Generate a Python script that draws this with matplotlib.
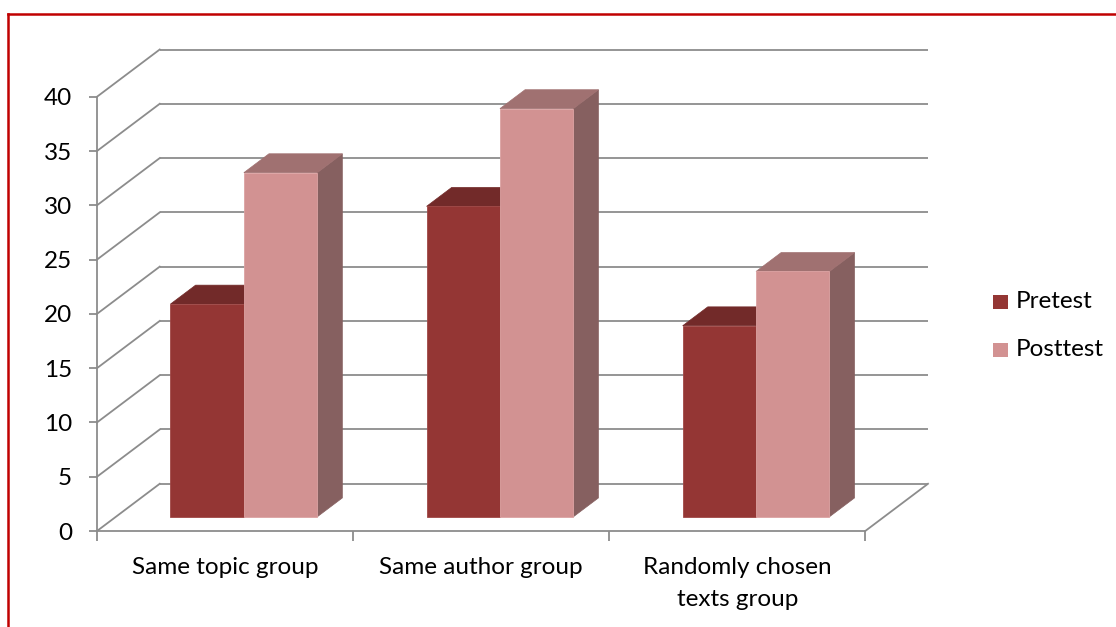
import matplotlib
matplotlib.use("Agg")
import matplotlib.pyplot as plt
from matplotlib.patches import Polygon, Rectangle
from matplotlib.lines import Line2D

plt.rcParams['font.family'] = ['Lato', 'DejaVu Sans']

# ---- data ----
categories = ["Same topic group", "Same author group", "Randomly chosen\ntexts group"]
series_names = ["Pretest", "Posttest"]
pretest = [19.6, 28.6, 17.6]
posttest = [31.7, 37.6, 22.6]
y_ticks = [0, 5, 10, 15, 20, 25, 30, 35, 40]

# ---- styling ----
W, H, DPI = 1116, 627, 100
FS = 17.5
grid_color = "#8c8c8c"
front_colors = ["#943634", "#d29292"]
top_colors = ["#722a29", "#a07171"]
side_colors = ["#6e2b2a", "#866060"]
edge_colors = ["#a04846", "#dca2a2"]

# oblique depth of the plot box (category units, value units)
DX, DY = 0.245, 4.35
F0, F1 = 0.30, 0.70          # depth band occupied by the bars
BW = 0.2865                  # bar width in category units
YMAX = 40

fig = plt.figure(figsize=(W / DPI, H / DPI), dpi=DPI)
fig.patch.set_facecolor("white")

# axes box in pixels: left 97, right 928, bottom (value 0) 531, top 49.5
L, R, B, T = 97, 928, 531, 49.5
ax = fig.add_axes([L / W, (H - B) / H, (R - L) / W, (B - T) / H])
ax.set_xlim(0, 3 + DX)
ax.set_ylim(0, YMAX + DY)
ax.patch.set_alpha(0)

n = len(categories)

# back wall gridlines and left side-wall diagonals
for v in y_ticks:
    ax.plot([DX, n + DX], [v + DY, v + DY], color=grid_color, lw=1.3, zorder=1,
            clip_on=False, solid_capstyle="butt")
    ax.plot([0, DX], [v, v + DY], color=grid_color, lw=1.3, zorder=1, clip_on=False)
# floor right edge
ax.plot([n, n + DX], [0, DY], color=grid_color, lw=1.3, zorder=1, clip_on=False)

# axes spines as the front edges
for s in ["top", "right"]:
    ax.spines[s].set_visible(False)
for s in ["left", "bottom"]:
    ax.spines[s].set_color(grid_color)
    ax.spines[s].set_linewidth(1.3)
    ax.spines[s].set_zorder(2)
ax.spines["left"].set_bounds(0, YMAX)
ax.spines["bottom"].set_bounds(0, n)

ax.set_yticks(y_ticks)
ax.set_yticklabels([str(v) for v in y_ticks])
ax.tick_params(axis="y", direction="out", length=6, width=1.3, color=grid_color,
               labelsize=FS, pad=12, labelcolor="black")
ax.set_xticks(range(n + 1))
ax.set_xticklabels([""] * (n + 1))
ax.tick_params(axis="x", which="major", direction="out", length=7, width=1.3,
               color=grid_color)
ax.set_xticks([i + 0.5 for i in range(n)], minor=True)
ax.set_xticklabels(categories, minor=True)
ax.tick_params(axis="x", which="minor", length=0, labelsize=FS, pad=18.5,
               labelcolor="black")
for lab in ax.get_xticklabels(minor=True):
    lab.set_linespacing(1.65)

# bars drawn as front / top / side faces
dd_x = (F1 - F0) * DX
dd_y = (F1 - F0) * DY
for i in range(n):
    c = i + 0.5
    for k, vals in enumerate([pretest, posttest]):
        v = vals[i]
        x0 = c - BW + k * BW + F0 * DX
        x1 = x0 + BW
        y0 = F0 * DY
        y1 = y0 + v
        z = 3 + i * 3 + k
        side = [(x1, y0), (x1 + dd_x, y0 + dd_y), (x1 + dd_x, y1 + dd_y), (x1, y1)]
        top = [(x0, y1), (x1, y1), (x1 + dd_x, y1 + dd_y), (x0 + dd_x, y1 + dd_y)]
        front = [(x0, y0), (x1, y0), (x1, y1), (x0, y1)]
        ax.add_patch(Polygon(side, closed=True, facecolor=side_colors[k],
                             edgecolor=side_colors[k], lw=0.5, zorder=z, clip_on=False))
        ax.add_patch(Polygon(top, closed=True, facecolor=top_colors[k],
                             edgecolor=top_colors[k], lw=0.5, zorder=z, clip_on=False))
        ax.add_patch(Polygon(front, closed=True, facecolor=front_colors[k],
                             edgecolor=edge_colors[k], lw=0.6, zorder=z + 0.5,
                             clip_on=False))

# legend
def fx(px):
    return px / W

def fy(py):
    return (H - py) / H

for k, name in enumerate(series_names):
    cy = 301.5 + k * 48
    fig.add_artist(Rectangle((fx(993), fy(cy + 7)), 15 / W, 14 / H,
                             transform=fig.transFigure, facecolor=front_colors[k],
                             edgecolor="none"))
    fig.text(fx(1016), fy(cy), name, fontsize=FS, va="center", ha="left",
             color="black")

# red frame
fig.add_artist(Line2D([fx(7.5), 1.0], [fy(13.5), fy(13.5)], color="#c00000", lw=1.8,
                      transform=fig.transFigure))
fig.add_artist(Line2D([fx(7.5), fx(7.5)], [fy(13.5), 0.0], color="#c00000", lw=1.8,
                      transform=fig.transFigure))

fig.savefig("out.png", dpi=DPI, facecolor="white")
